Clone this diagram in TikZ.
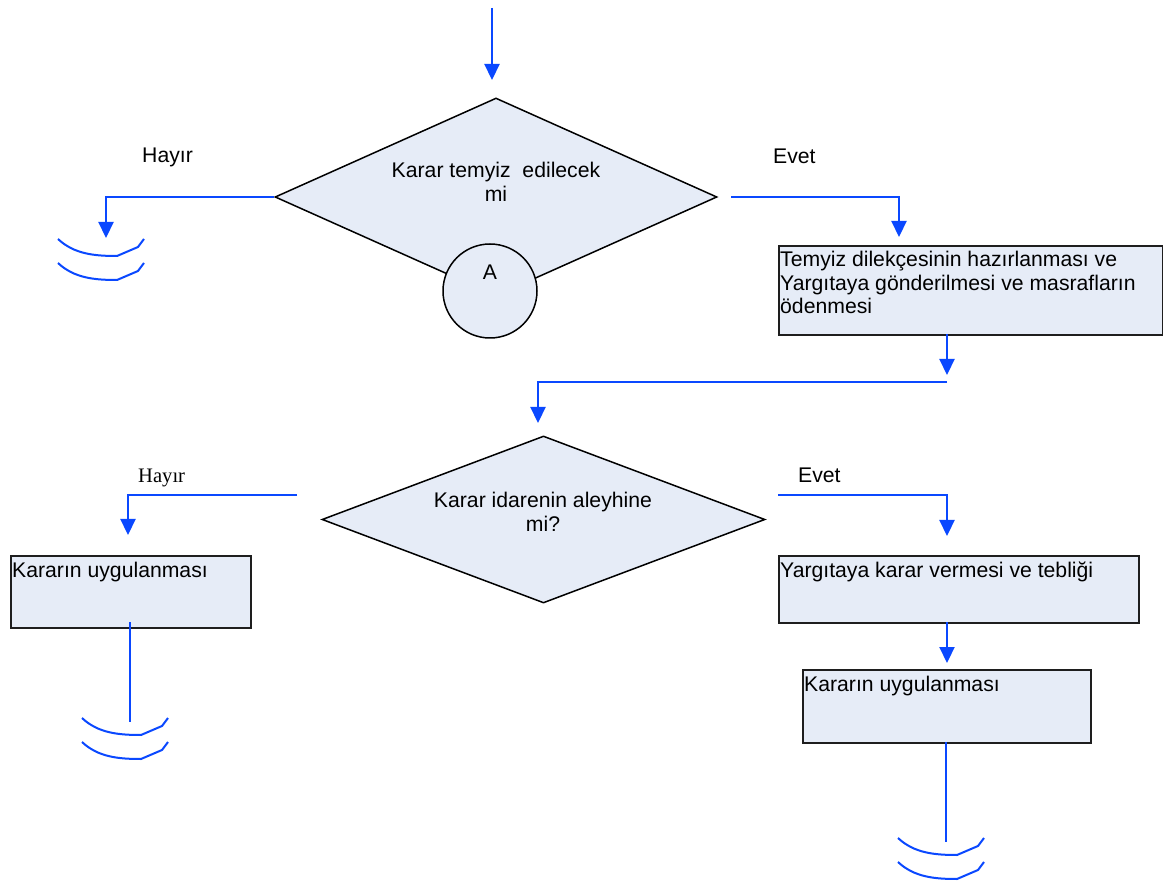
\documentclass[tikz,border=0pt]{standalone}
\usepackage{fontspec}
\setmainfont{Liberation Sans}
\newfontfamily\serifhayir{Liberation Serif}
\usetikzlibrary{shapes.geometric,arrows.meta,calc}
\definecolor{flowblue}{RGB}{10,72,255}
\definecolor{boxfill}{RGB}{230,236,247}
\definecolor{boxline}{RGB}{30,30,30}
\begin{document}
\begin{tikzpicture}[x=1pt,y=-1pt,
  conn/.style={draw=flowblue,line width=2.2pt},
  arr/.style={conn,-{Triangle[width=15pt,length=16pt]}},
  procbox/.style={draw=boxline,line width=1.6pt,fill=boxfill,rectangle,inner sep=0pt,anchor=north west},
  decision/.style={draw=black,line width=1.5pt,fill=boxfill,diamond,inner sep=0pt},
  txt/.style={font=\fontsize{21.2}{24}\selectfont,inner sep=0pt},
  termline/.style={draw=flowblue,line width=2pt},
  term/.pic={
    \draw[termline] (-48,0) .. controls (-32,15) and (-12,17) .. (11,17) -- (32,8) -- (38,0);
    \draw[termline] (-48,24) .. controls (-32,39) and (-12,41) .. (11,41) -- (32,32) -- (38,24);
  }
]
\useasboundingbox[fill=white] (0,0) rectangle (1163,882);

% decision 1 and connector circle
\node[decision,minimum width=442pt,minimum height=198pt] (d1) at (496,197) {};
\node[draw=black,line width=1.5pt,fill=boxfill,circle,minimum size=94pt,inner sep=0pt] (A) at (490,291) {};
\node[txt,anchor=base] (Atxt) at (490,280) {A};
\node[txt,align=center,anchor=north] (d1txt) at (496,162) {Karar temyiz\ \ edilecek\\mi};

% labels
\node[txt,anchor=base west] (hayir1) at (142,163) {Hayır};
\node[txt,anchor=base west] (evet1) at (773,164) {Evet};

% box 1
\node[procbox,minimum width=384pt,minimum height=89pt] (b1) at (778,245) {};
\node[txt,align=left,anchor=north west,font=\fontsize{21.2}{23.5}\selectfont] (b1txt) at (780,251)
  {Temyiz dilekçesinin hazırlanması ve\\Yargıtaya gönderilmesi ve masrafların\\ödenmesi};

% decision 2
\node[decision,minimum width=443pt,minimum height=167pt] (d2) at (543.5,519.5) {};
\node[txt,align=center,anchor=north] (d2txt) at (543,492) {Karar idarenin aleyhine\\mi?};

\node[anchor=base west,inner sep=0pt,font=\serifhayir\fontsize{20.6}{24}\selectfont] (hayir2) at (138,483) {Hayır};
\node[txt,anchor=base west] (evet2) at (798,483) {Evet};

% lower boxes
\node[procbox,minimum width=240pt,minimum height=72pt] (bl) at (10,555) {};
\node[txt,anchor=base west] (bltxt) at (12,577) {Kararın uygulanması};
\node[procbox,minimum width=360pt,minimum height=67pt] (br1) at (778,555) {};
\node[txt,anchor=base west] (br1txt) at (780,577) {Yargıtaya karar vermesi ve tebliği};
\node[procbox,minimum width=288pt,minimum height=73pt] (br2) at (802,669) {};
\node[txt,anchor=base west] (br2txt) at (804,691) {Kararın uygulanması};

% connectors
\coordinate (c0) at (492,8);
\coordinate (c0e) at (492,80);
\draw[arr] (c0) -- (c0e);

\coordinate (l1e) at (106,238);
\draw[arr] (d1.west) -| (l1e);

\coordinate (r1s) at (731,197);
\coordinate (r1e) at (899,237);
\draw[arr] (r1s) -| (r1e);

\coordinate (b1o) at (947,334);
\coordinate (b1e) at (947,375);
\draw[arr] (b1o) -- (b1e);

\coordinate (j1) at (947,382);
\coordinate (d2in) at (538,423);
\draw[arr] (j1) -| (d2in);

\coordinate (l2s) at (297,495);
\coordinate (l2e) at (128,535);
\draw[arr] (l2s) -| (l2e);

\coordinate (r2s) at (778,495);
\coordinate (r2e) at (947,536);
\draw[arr] (r2s) -| (r2e);

\coordinate (bls) at (130,622);
\coordinate (ble) at (130,722);
\draw[conn] (bls) -- (ble);

\coordinate (br1o) at (947,622);
\coordinate (br1e) at (947,663);
\draw[arr] (br1o) -- (br1e);

\coordinate (br2o) at (946,742);
\coordinate (br2e) at (946,842);
\draw[conn] (br2o) -- (br2e);

% terminators
\pic (t1) at (106,239) {term};
\pic (t2) at (130,718) {term};
\pic (t3) at (946,838) {term};
\end{tikzpicture}
\end{document}
